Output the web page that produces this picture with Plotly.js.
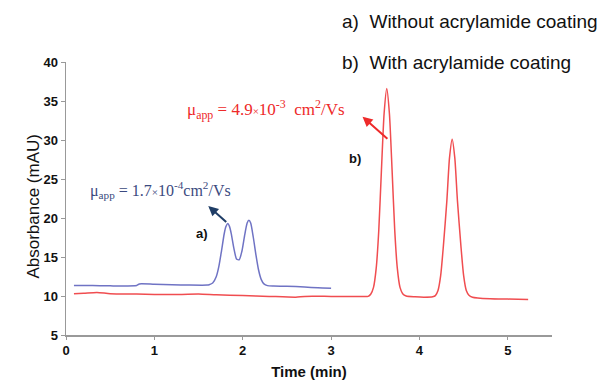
<!DOCTYPE html>
<html><head><meta charset="utf-8">
<script src="https://cdn.plot.ly/plotly-3.0.1.min.js"></script>
<style>html,body{margin:0;padding:0;background:#fff}#chart{width:597px;height:381px}</style>
</head><body><div id="chart"></div>
<script>
// Series a) without acrylamide coating (blue)
const timeA = [0.09,0.3,0.5,0.8,0.83,1.0,1.2,1.4,1.6,1.62,1.66,1.70,1.73,1.76,1.79,1.81,1.83,1.85,1.87,1.90,1.93,1.96,1.99,2.02,2.05,2.07,2.09,2.12,2.15,2.18,2.21,2.24,2.28,2.35,2.5,2.7,2.85,3.0];
const absA  = [11.35,11.35,11.3,11.35,11.55,11.5,11.45,11.4,11.4,11.45,11.66,12.47,13.8,15.8,17.95,18.9,19.3,18.93,18.0,16.1,14.75,14.65,15.7,17.66,19.35,19.7,19.35,17.5,15.25,13.3,12.1,11.55,11.33,11.28,11.25,11.15,11.05,11.0];
// Series b) with acrylamide coating (red)
const timeB = [0.09,0.2,0.35,0.5,0.8,1.0,1.3,1.5,1.7,2.0,2.3,2.6,2.7,3.0,3.3,3.42,3.45,3.48,3.51,3.54,3.57,3.60,3.63,3.66,3.69,3.72,3.75,3.78,3.81,3.85,3.95,4.05,4.15,4.18,4.21,4.24,4.27,4.31,4.34,4.37,4.40,4.43,4.47,4.50,4.53,4.56,4.60,4.66,4.8,5.0,5.23];
const absB  = [10.3,10.35,10.45,10.3,10.25,10.2,10.2,10.25,10.15,10.05,9.95,9.85,9.95,9.95,9.95,9.95,10.25,11.1,13.5,18.5,26.2,33.4,36.6,33.4,26.2,18.5,13.5,11.1,10.3,10.0,9.9,9.85,9.9,10.05,10.7,12.6,16.3,22.2,27.7,30.1,27.7,22.2,16.3,12.6,10.7,10.1,9.85,9.75,9.65,9.6,9.55];
const xTicks = [0,1,2,3,4,5];
const yTicks = [5,10,15,20,25,30,35,40];
const labelA = 'a)';
const labelB = 'b)';
const muA = 'μ<sub>app</sub> = 1.7<span style="font-size:11px">×</span>10<sup>-4</sup>cm<sup>2</sup>/Vs';
const muB = 'μ<sub>app</sub> = 4.9<span style="font-size:11px">×</span>10<sup>-3</sup>  cm<sup>2</sup>/Vs';
const legendA = 'a)  Without acrylamide coating';
const legendB = 'b)  With acrylamide coating';
const xTitle = 'Time (min)';
const yTitle = 'Absorbance (mAU)';

const traces = [
  {x: timeA, y: absA, type:'scatter', mode:'lines', line:{color:'#6f73c4', width:1.5, shape:'spline', smoothing:0.6}, hoverinfo:'skip'},
  {x: timeB, y: absB, type:'scatter', mode:'lines', line:{color:'#f04d50', width:1.5, shape:'spline', smoothing:0.6}, hoverinfo:'skip'}
];
const serif = 'Liberation Serif, Times New Roman, serif';
const sans = 'Liberation Sans, Arial, sans-serif';
const layout = {
  width:597, height:381,
  margin:{l:66, r:45, t:62, b:46},
  paper_bgcolor:'#fff', plot_bgcolor:'#fff',
  showlegend:false,
  xaxis:{range:[0,5.5], tickvals:xTicks, ticks:'outside', ticklen:3, tickcolor:'#999', showline:true, linecolor:'#999', linewidth:1.5, showgrid:false, zeroline:false,
    tickfont:{family:sans, size:13, color:'#111', weight:'bold'},
    title:{text:'<b>'+xTitle+'</b>', font:{family:sans, size:15, color:'#111'}, standoff:9}},
  yaxis:{range:[5,40], tickvals:yTicks, ticks:'outside', ticklen:4, tickcolor:'#999', showline:true, linecolor:'#999', linewidth:1.5, showgrid:false, zeroline:false,
    tickfont:{family:sans, size:13, color:'#111', weight:'bold'}},
  annotations:[
    {x:-0.0906, y:0.472, xref:'paper', yref:'paper', textangle:-90, text:yTitle, showarrow:false, font:{family:sans, size:17, color:'#111'}},
    {x:1.535, y:18.04, xref:'x', yref:'y', text:'<b>'+labelA+'</b>', showarrow:false, font:{family:sans, size:13, color:'#111'}},
    {x:3.27, y:27.65, xref:'x', yref:'y', text:'<b>'+labelB+'</b>', showarrow:false, font:{family:sans, size:13, color:'#111'}},
    {x:0.25, y:23.6, xref:'x', yref:'y', xanchor:'left', text:muA, showarrow:false, font:{family:serif, size:16, color:'#3b4a80'}},
    {x:1.35, y:33.9, xref:'x', yref:'y', xanchor:'left', text:muB, showarrow:false, font:{family:serif, size:17, color:'#ee2a2a'}},
    {x:1.61, y:21.54, ax:1.83, ay:19.32, xref:'x', yref:'y', axref:'x', ayref:'y', text:'', showarrow:true, arrowhead:2, arrowsize:1, arrowwidth:2, arrowcolor:'#1f3d66'},
    {x:3.356, y:32.99, ax:3.654, ay:30.0, xref:'x', yref:'y', axref:'x', ayref:'y', text:'', showarrow:true, arrowhead:2, arrowsize:1, arrowwidth:2, arrowcolor:'#ee2a2a'},
    {x:0.564, y:1.15, xref:'paper', yref:'paper', xanchor:'left', yanchor:'middle', text:legendA, showarrow:false, font:{family:sans, size:19, color:'#111'}},
    {x:0.564, y:1.0, xref:'paper', yref:'paper', xanchor:'left', yanchor:'middle', text:legendB, showarrow:false, font:{family:sans, size:19, color:'#111'}}
  ]
};
Plotly.newPlot('chart', traces, layout, {staticPlot:true, displayModeBar:false});
</script></body></html>
